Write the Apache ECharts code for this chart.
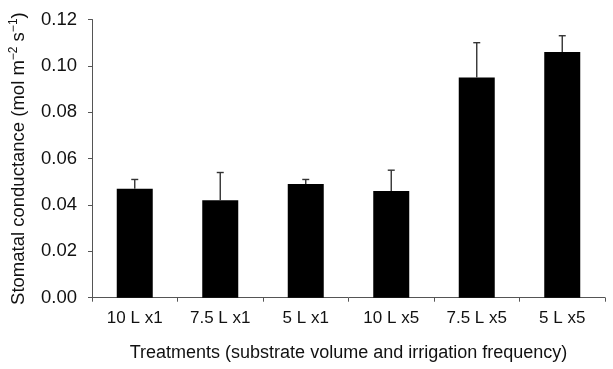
<!DOCTYPE html>
<html>
<head>
<meta charset="utf-8">
<script src="https://cdn.jsdelivr.net/npm/echarts@6/dist/echarts.min.js"></script>
<style>
  html, body { margin: 0; padding: 0; background: #fff; }
  #chart { width: 613px; height: 369px; }
</style>
</head>
<body>
<div id="chart"></div>
<script>
const categories = ["10 L x1", "7.5 L x1", "5 L x1", "10 L x5", "7.5 L x5", "5 L x5"];
const means = [0.047, 0.042, 0.049, 0.046, 0.095, 0.106];
const errTops = [0.051, 0.054, 0.051, 0.055, 0.110, 0.113];
const yTicks = [0, 0.02, 0.04, 0.06, 0.08, 0.10, 0.12];

const font = "Liberation Sans, Arial, sans-serif";
const chart = echarts.init(document.getElementById("chart"));

chart.setOption({
  animation: false,
  grid: { left: 89, right: 8, top: 19.5, bottom: 71.3 },
  xAxis: {
    type: "category",
    data: categories,
    name: "Treatments (substrate volume and irrigation frequency)",
    nameLocation: "middle",
    nameGap: 46,
    nameTextStyle: { fontFamily: font, fontSize: 18, color: "#111" },
    axisLine: { lineStyle: { color: "#555", width: 1 } },
    axisTick: { show: true, inside: false, length: 4, lineStyle: { color: "#555" } },
    axisLabel: { fontFamily: font, fontSize: 17, color: "#111", margin: 12 }
  },
  yAxis: {
    type: "value",
    min: yTicks[0],
    max: yTicks[yTicks.length - 1],
    interval: 0.02,
    name: "{a|Stomatal conductance (mol m}{s|−2}{a| s}{s|−1}{a|)}",
    nameLocation: "middle",
    nameGap: 62,
    nameTextStyle: {
      rich: {
        a: { fontFamily: font, fontSize: 18.5, color: "#111", lineHeight: 22 },
        s: { fontFamily: font, fontSize: 12, color: "#111", verticalAlign: "top", lineHeight: 22, padding: [0, 0, 10, 0] }
      }
    },
    axisLine: { show: true, lineStyle: { color: "#555", width: 1 } },
    axisTick: { show: true, inside: false, length: 4, lineStyle: { color: "#555" } },
    splitLine: { show: false },
    axisLabel: {
      fontFamily: font, fontSize: 18.5, color: "#111", margin: 15,
      formatter: v => v.toFixed(2)
    }
  },
  series: [
    {
      type: "bar",
      data: means,
      barWidth: 36,
      itemStyle: { color: "#000" },
      z: 2
    },
    {
      type: "custom",
      data: categories.map((c, i) => [i, means[i], errTops[i]]),
      z: 3,
      renderItem: (params, api) => {
        const lo = api.coord([api.value(0), api.value(1)]);
        const hi = api.coord([api.value(0), api.value(2)]);
        const style = { stroke: "#333", lineWidth: 1.4 };
        return {
          type: "group",
          children: [
            { type: "line", shape: { x1: lo[0], y1: lo[1], x2: hi[0], y2: hi[1] }, style },
            { type: "line", shape: { x1: hi[0] - 3.5, y1: hi[1], x2: hi[0] + 3.5, y2: hi[1] }, style }
          ]
        };
      }
    }
  ]
});
</script>
</body>
</html>
